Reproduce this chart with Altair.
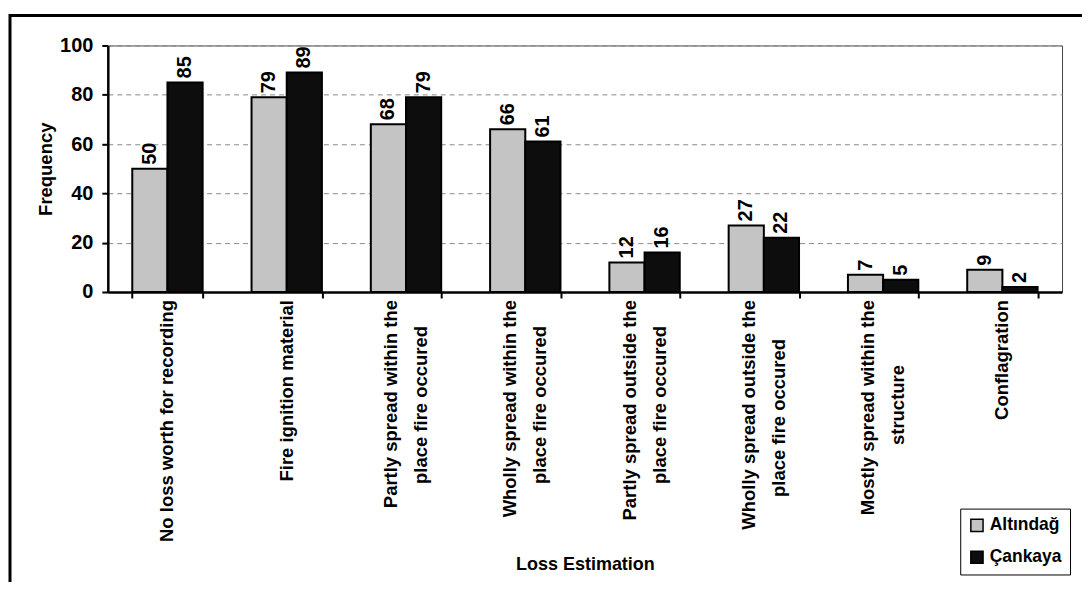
import altair as alt
import pandas as pd

categories = [
    "No loss worth for recording",
    "Fire ignition material",
    "Partly spread within the\nplace fire occured",
    "Wholly spread within the\nplace fire occured",
    "Partly spread outside the\nplace fire occured",
    "Wholly spread outside the\nplace fire occured",
    "Mostly spread within the\nstructure",
    "Conflagration",
]
series = ["Altındağ", "Çankaya"]
altindag = [50, 79, 68, 66, 12, 27, 7, 9]
cankaya = [85, 89, 79, 61, 16, 22, 5, 2]
y_ticks = [0, 20, 40, 60, 80, 100]

FONT = "Liberation Sans"
PLOT_W, PLOT_H = 956, 247

# approximate Arial-bold advance widths, used only to centre the 2nd label line
W = {" ": .278, "a": .556, "c": .556, "d": .611, "e": .556, "f": .333, "g": .611,
     "h": .611, "i": .278, "l": .278, "m": .889, "n": .611, "o": .611, "p": .611,
     "r": .389, "s": .556, "t": .333, "u": .611, "w": .778, "y": .556, "C": .722,
     "F": .611, "M": .833, "N": .722, "P": .667, "W": .944}
BLANK = "\u2800"   # blank glyph that is not trimmed away by the renderer
BLANK_W = 0.7


def tw(s):
    return sum(W.get(ch, .556) for ch in s)


def pad(label):
    lines = label.split("\n")
    if len(lines) == 1:
        return label
    m = max(tw(l) for l in lines)
    return "\n".join(l + BLANK * round((m - tw(l)) / 2 / BLANK_W) for l in lines)


display = [pad(c) for c in categories]

rows = []
for i, cat in enumerate(display):
    rows.append({"cat": cat, "series": series[0], "value": altindag[i]})
    rows.append({"cat": cat, "series": series[1], "value": cankaya[i]})
df = pd.DataFrame(rows)

cat_df = pd.DataFrame({"cat": display, "n": [c.count("\n") + 1 for c in categories]})

x_enc = alt.X(
    "cat:N", sort=display,
    scale=alt.Scale(paddingInner=0.41, paddingOuter=0.205),
    axis=alt.Axis(
        title="Loss Estimation", labels=False,
        tickBand="extent", tickSize=6, grid=False,
        titleY=273, titleBaseline="middle", titleFontSize=18,
    ),
)
xoff = alt.XOffset("series:N", sort=series)
y_enc = alt.Y(
    "value:Q", scale=alt.Scale(domain=[0, 100], nice=False),
    axis=alt.Axis(
        values=y_ticks, title="Frequency", titleFontSize=18.5,
        titleX=-62, titleBaseline="middle",
        labelFontSize=20, labelPadding=9, tickSize=6,
        grid=True, gridDash=[5, 4], gridColor="#8a8a8a", gridWidth=1,
    ),
)

base = alt.Chart(df)

bars = base.mark_bar(stroke="black", strokeWidth=2).encode(
    x=x_enc, xOffset=xoff, y=y_enc,
    fill=alt.Fill(
        "series:N", title=None,
        scale=alt.Scale(domain=series, range=["#c4c4c4", "#0d0d0d"]),
        legend=alt.Legend(
            orient="none", legendX=854, legendY=464, direction="vertical",
            strokeColor="black", fillColor="white", padding=8,
            symbolType="square", symbolSize=150, symbolStrokeColor="black",
            symbolStrokeWidth=1.5, labelFontSize=17.5, labelFont=FONT,
            labelFontWeight="bold", rowPadding=13, labelOffset=4,
        ),
    ),
)

values = base.mark_text(
    angle=270, align="left", baseline="middle", dx=4,
    font=FONT, fontSize=20, fontWeight="bold", color="black",
).encode(x=x_enc, xOffset=xoff, y=y_enc, text="value:Q")

label_style = dict(
    angle=270, align="right", baseline="middle", lineBreak="\n", lineHeight=30,
    font=FONT, fontSize=18.5, fontWeight="bold", color="black",
)
cat_x = alt.X("cat:N", sort=display)
one_line = alt.Chart(cat_df).transform_filter("datum.n == 1").mark_text(
    **label_style
).encode(x=cat_x, y=alt.value(PLOT_H + 8), text="cat:N")
two_line = alt.Chart(cat_df).transform_filter("datum.n == 2").mark_text(
    dy=-15, **label_style
).encode(x=cat_x, y=alt.value(PLOT_H + 8), text="cat:N")

frame = alt.Chart(pd.DataFrame({"k": [0]})).mark_rect(
    fillOpacity=0, stroke="black", strokeWidth=3
).encode(
    x=alt.value(-98), x2=alt.value(1200), y=alt.value(-30), y2=alt.value(900)
)

chart = alt.layer(frame, bars, values, one_line, two_line).properties(
    width=PLOT_W, height=PLOT_H, autosize="none",
    padding={"left": 100, "top": 37, "right": 20, "bottom": 290},
    background="white",
).configure_view(
    stroke="#444", strokeWidth=1
).configure_axis(
    domainColor="black", domainWidth=2.5, tickColor="black", tickWidth=2,
    labelFont=FONT, labelFontWeight="bold", labelColor="black",
    titleFont=FONT, titleFontWeight="bold", titleColor="black",
)

chart.save("out.html", embed_options={"renderer": "svg", "actions": False})
